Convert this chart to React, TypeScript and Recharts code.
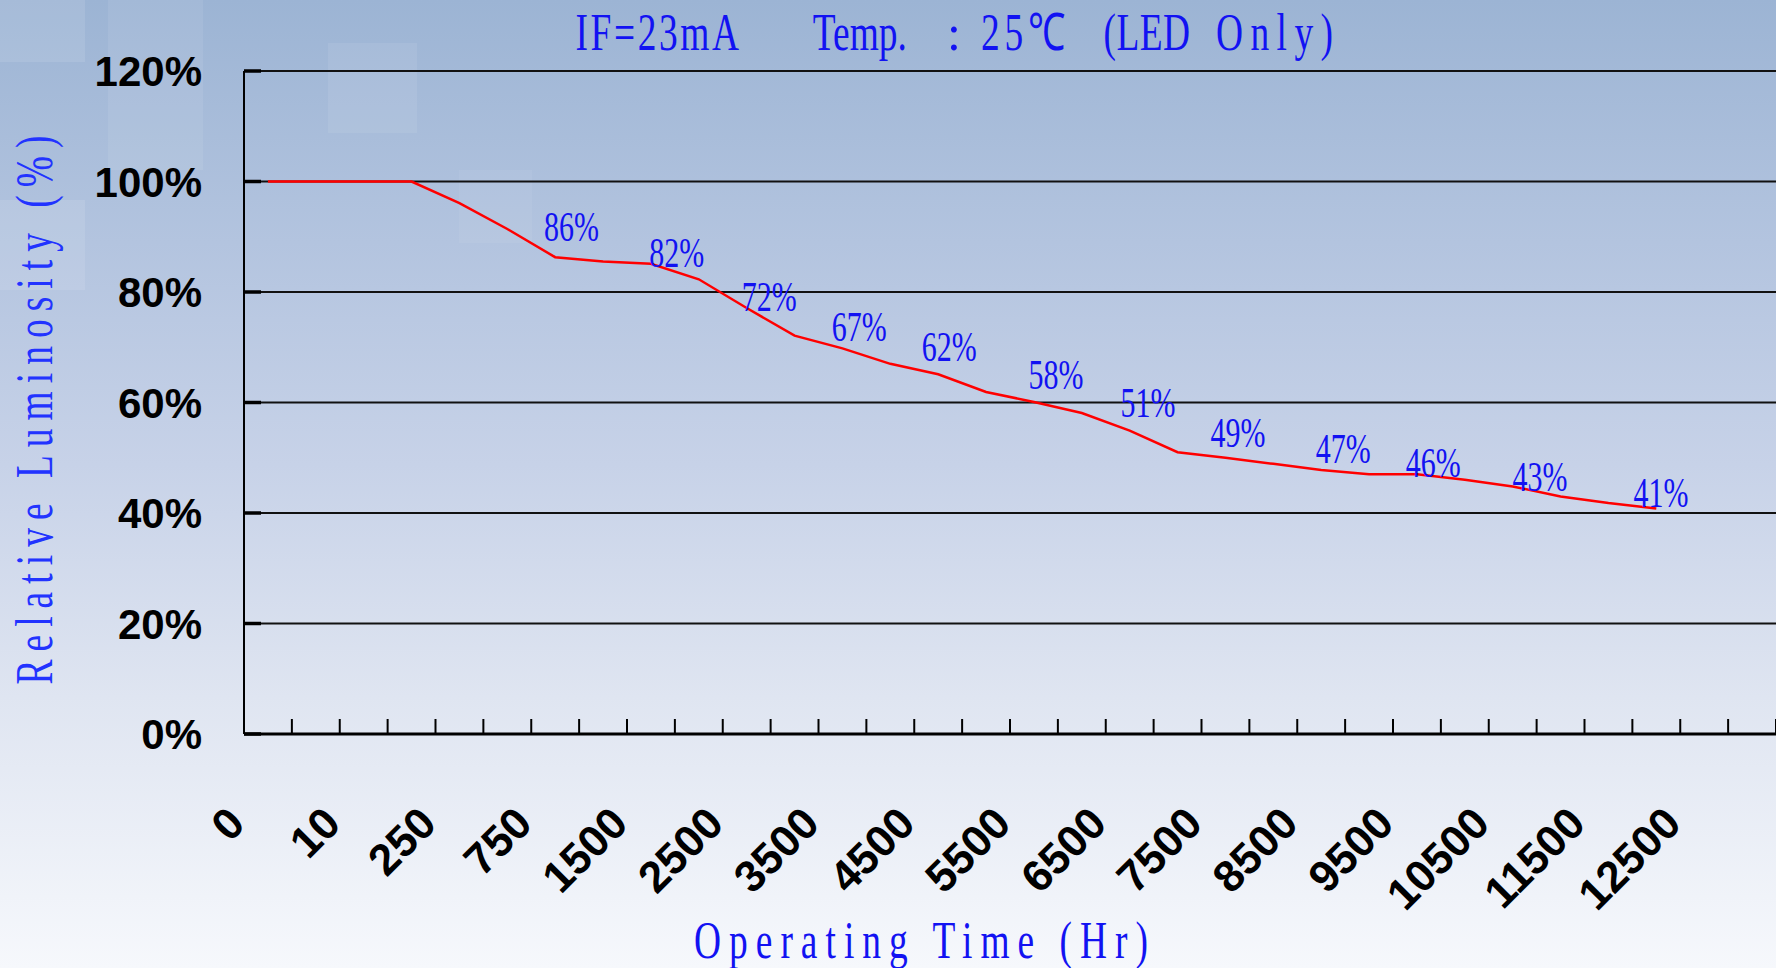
import {
  ComposedChart,
  Line,
  Scatter,
  XAxis,
  YAxis,
  CartesianGrid,
} from "recharts";

// x axis: 32 slots, an hour label on every second slot boundary
const hourLabels = [
  "0", "10", "250", "750", "1500", "2500", "3500", "4500",
  "5500", "6500", "7500", "8500", "9500", "10500", "11500", "12500",
];
const slotCount = 32;

// measured curve, one point in the middle of each slot
const luminosity = [
  100, 100, 100, 100, 96.1, 91.4, 86.3, 85.5, 85.1, 82.3,
  77.1, 72.1, 69.8, 67.0, 65.1, 61.9, 60.1, 58.1, 54.9, 51.0,
  50.0, 48.9, 47.8, 47.0, 47.0, 46.0, 44.8, 43.0, 41.8, 40.8,
];

// the blue value notes written over the curve
const noteText = ["86%", "82%", "72%", "67%", "62%", "58%", "51%", "49%", "47%", "46%", "43%", "41%"];
const noteSlot = [6.84, 9.04, 10.97, 12.85, 14.73, 16.96, 18.88, 20.76, 22.96, 24.84, 27.07, 29.6];
const noteLum = [89.3, 84.5, 76.5, 71.1, 67.5, 62.5, 57.4, 51.9, 49.1, 46.5, 43.9, 41.1];

const yTicks = [0, 20, 40, 60, 80, 100, 120];

const lineData = luminosity.map((v, i) => ({ slot: i + 0.5, lum: v }));
const noteData = noteText.map((t, i) => ({ slot: noteSlot[i], lum: noteLum[i], text: t }));
const xTicks = Array.from({ length: slotCount + 1 }, (_, i) => i);

const W = 1776;
const H = 968;
const BLUE = "#1212f2";

function HourTick({ x, y, payload }: any) {
  const i = payload.value;
  const label = i % 2 === 0 ? hourLabels[i / 2] : undefined;
  const ly = y + 92;
  return (
    <g>
      {i > 0 && <line x1={x} y1={y} x2={x} y2={y - 15} stroke="#000" strokeWidth={2} />}
      {label && (
        <text
          x={x + 3}
          y={ly}
          transform={`rotate(-45 ${x + 3} ${ly})`}
          textAnchor="end"
          fontFamily="'Liberation Sans', Arial, sans-serif"
          fontWeight="bold"
          fontSize={44}
          fill="#000"
        >
          {label}
        </text>
      )}
    </g>
  );
}

function LumTick({ x, y, payload }: any) {
  return (
    <g>
      <line x1={x + 42} y1={y} x2={x + 59} y2={y} stroke="#000" strokeWidth={3.5} />
      <text
        x={x}
        y={y}
        dy="0.36em"
        textAnchor="end"
        fontFamily="'Liberation Sans', Arial, sans-serif"
        fontWeight="bold"
        fontSize={42}
        fill="#000"
      >
        {payload.value}%
      </text>
    </g>
  );
}

function Note(props: any) {
  const { cx, cy, payload } = props;
  return (
    <text
      x={cx}
      y={cy}
      textAnchor="middle"
      fontFamily="'Liberation Serif', serif"
      fontSize={43}
      fill={BLUE}
      textLength={55}
      lengthAdjust="spacingAndGlyphs"
    >
      {payload.text}
    </text>
  );
}

// condensed serif text: squeeze glyphs, then spread to the measured width
function Squeezed({ x, y, width, text, size = 52, sx = 0.72, rotate = 0, anchor = "start", fill = BLUE }: any) {
  return (
    <text
      transform={`translate(${x},${y}) rotate(${rotate}) scale(${sx},1)`}
      textAnchor={anchor}
      fontFamily="'Liberation Serif', serif"
      fontSize={size}
      fill={fill}
      textLength={width / sx}
      lengthAdjust="spacing"
    >
      {text}
    </text>
  );
}

export default function App() {
  return (
    <div
      style={{
        position: "absolute",
        left: 0,
        top: 0,
        width: W,
        height: H,
        overflow: "hidden",
        background:
          "linear-gradient(to bottom, #9cb4d4 0%, #b3c4df 25%, #c7d2e8 48%, #dfe5f1 72%, #f6f8fc 100%)",
      }}
    >
      {/* faint decorative squares of the slide background */}
      <div style={{ position: "absolute", left: 0, top: 0, width: 85, height: 62, background: "rgba(255,255,255,0.10)" }} />
      <div style={{ position: "absolute", left: 108, top: 0, width: 95, height: 170, background: "rgba(255,255,255,0.08)" }} />
      <div style={{ position: "absolute", left: 0, top: 200, width: 85, height: 90, background: "rgba(255,255,255,0.10)" }} />
      <div style={{ position: "absolute", left: 328, top: 43, width: 89, height: 90, background: "rgba(255,255,255,0.08)" }} />
      <div style={{ position: "absolute", left: 459, top: 170, width: 73, height: 73, background: "rgba(255,255,255,0.06)" }} />

      <div style={{ position: "absolute", left: 0, top: 0 }}>
        <ComposedChart width={W} height={H} margin={{ top: 71, right: 0, bottom: 0, left: 0 }}>
          <CartesianGrid vertical={false} stroke="#111" strokeWidth={2} />
          <XAxis
            type="number"
            dataKey="slot"
            domain={[0, slotCount]}
            ticks={xTicks}
            interval={0}
            height={234}
            tickSize={0}
            tickMargin={0}
            tickLine={false}
            tick={(p: any) => <HourTick {...p} />}
            axisLine={{ stroke: "#000", strokeWidth: 3 }}
            allowDecimals={false}
          />
          <YAxis
            type="number"
            domain={[0, 120]}
            ticks={yTicks}
            interval={0}
            width={244}
            tickSize={0}
            tickMargin={42}
            tickLine={false}
            tick={(p: any) => <LumTick {...p} />}
            axisLine={{ stroke: "#000", strokeWidth: 2 }}
          />
          <Line
            data={lineData}
            dataKey="lum"
            type="linear"
            stroke="#ff0000"
            strokeWidth={2.5}
            dot={false}
            activeDot={false}
            isAnimationActive={false}
          />
          <Scatter
            data={noteData}
            dataKey="lum"
            shape={(p: any) => <Note {...p} />}
            isAnimationActive={false}
          />
        </ComposedChart>
      </div>

      <svg
        width={W}
        height={H}
        style={{ position: "absolute", left: 0, top: 0, pointerEvents: "none" }}
      >
        <Squeezed x={575.5} y={50} width={163.5} text="IF=23mA" />
        <Squeezed x={812.8} y={50} width={94} text="Temp." />
        <text x={954} y={50} textAnchor="middle" fontFamily="'Liberation Serif', serif" fontSize={50} fill={BLUE}>:</text>
        <Squeezed x={981} y={50} width={84} text="25℃" />
        <Squeezed x={1103.6} y={50} width={86.4} text="(LED" />
        <Squeezed x={1216} y={50} width={117} text="Only)" />
        <Squeezed x={694} y={958} width={454} text="Operating Time (Hr)" />
        <Squeezed
          x={52}
          y={410}
          width={549}
          rotate={-90}
          anchor="middle"
          size={52}
          fill="#2233ff"
          text="Relative Luminosity (%)"
        />
      </svg>
    </div>
  );
}
